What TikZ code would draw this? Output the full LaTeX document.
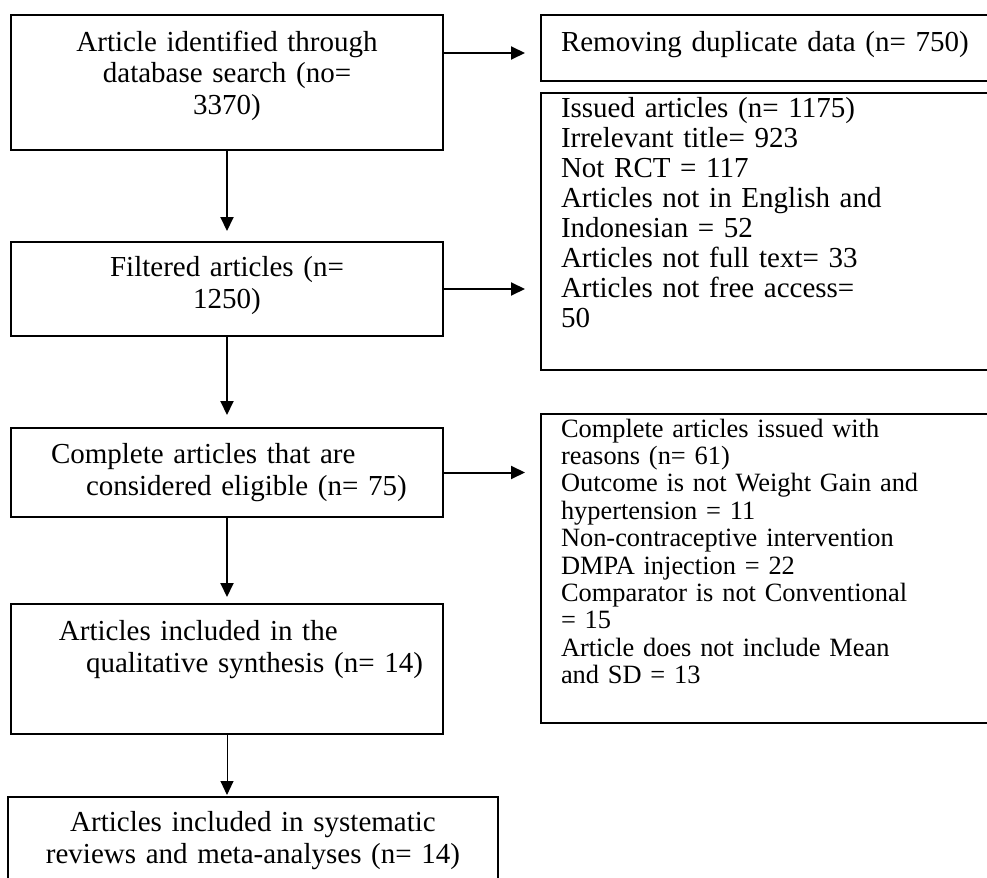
\documentclass[tikz,border=0pt]{standalone}
\usepackage{fontspec}
\setmainfont{Liberation Serif}
\usetikzlibrary{positioning,arrows.meta,calc}

\begin{document}
\begin{tikzpicture}
    \tikzstyle{arrow} = [line width=1pt,-{Triangle[length=7pt,width=6.5pt]}]
       \tikzset{stage/.style = {rectangle, draw, line width=1pt, outer sep=0pt, inner xsep=0pt, inner ysep=2pt, text width=216pt, align=center, font=\fontsize{14.5}{16}\selectfont}, }
       \tikzset{excluded/.style = {rectangle, draw, line width=1pt, outer sep=0pt, inner xsep=10pt, inner ysep=2pt, text width=220pt, align=left, font=\fontsize{14.5}{15}\selectfont}, }
       \useasboundingbox (0,0) rectangle (493.5pt,-439pt);
       \clip (0,0) rectangle (493.5pt,-439pt);

       \node[stage, anchor=north west, text height=16pt, text depth=47.5pt] (ident) at (5.5pt,-7.5pt) {Article identified through\\ database search (no=\\ 3370)};
       \node[stage, below=46pt of ident, text height=15pt, text depth=28pt] (filt) {Filtered articles (n=\\ 1250)};
       \node[stage, below=46pt of filt, align=left, text height=15.5pt, text depth=25pt] (elig) {\hspace*{20pt}Complete articles that are\\ \hspace*{37.5pt}considered eligible (n= 75)};
       \node[stage, below=43.5pt of elig, align=left, text height=16pt, text depth=45pt] (qual) {\hspace*{24pt}Articles included in the\\ \hspace*{37.5pt}qualitative synthesis (n= 14)};
       \node[stage, below=31.5pt of qual.south west, anchor=north west, xshift=-1.5pt, text width=245pt, text height=15pt, text depth=27.5pt] (meta) {Articles included in systematic\\ reviews and meta-analyses (n= 14)};

       \node[excluded, right=49pt of ident.north east, anchor=north west, text height=16pt, text depth=13pt] (dupl) {Removing duplicate data (n= 750)};
       \node[excluded, below=6pt of dupl, text height=10.5pt, text depth=124pt] (issued) {Issued articles (n= 1175)\\ Irrelevant title= 923\\ Not RCT = 117\\ Articles not in English and\\ Indonesian = 52\\ Articles not full text= 33\\ Articles not free access=\\ 50};
       \node[excluded, below=22pt of issued, text height=9.5pt, text depth=141pt, font=\fontsize{13.2}{13.7}\selectfont] (reasons) {Complete articles issued with\\ reasons (n= 61)\\ Outcome is not Weight Gain and\\ hypertension = 11\\ Non-contraceptive intervention\\ DMPA injection = 22\\ Comparator is not Conventional\\ = 15\\ Article does not include Mean\\ and SD = 13};

       \draw[arrow, shorten >=8pt] ($(ident.east |- dupl.west)+(0,-2.5pt)$) -- ($(dupl.west)+(0,-2.5pt)$);
       \draw[arrow, shorten >=8pt] (filt.east) -- (filt.east -| issued.west);
       \draw[arrow, shorten >=8pt] (elig.east) -- (elig.east -| reasons.west);

       \draw[arrow, shorten >=5.5pt] (ident) -- (filt);
       \draw[arrow, shorten >=6.5pt] (filt) -- (elig);
       \draw[arrow, shorten >=3.5pt] (elig) -- (qual);
       \draw[arrow, line width=0.5pt, shorten >=1pt] (qual.south) -- (qual.south |- meta.north);

\end{tikzpicture}
\end{document}
